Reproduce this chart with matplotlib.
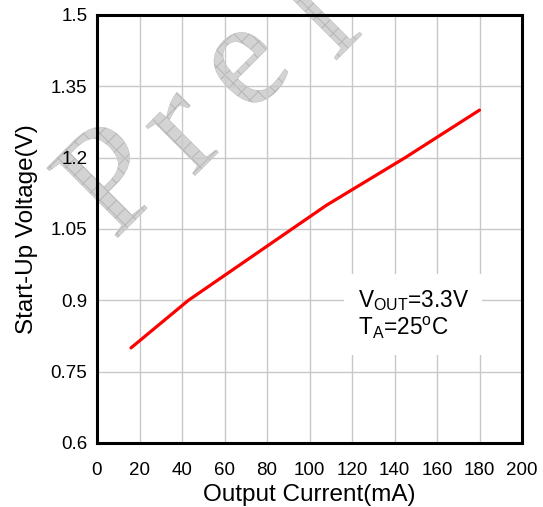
import matplotlib
matplotlib.use("Agg")
import matplotlib.pyplot as plt
from matplotlib.textpath import TextPath
from matplotlib.patches import PathPatch
from matplotlib.font_manager import FontProperties
from matplotlib.transforms import Affine2D, IdentityTransform

plt.rcParams['font.family'] = ['Liberation Sans', 'DejaVu Sans']
plt.rcParams['mathtext.fontset'] = 'custom'
plt.rcParams['mathtext.rm'] = 'Liberation Sans'
plt.rcParams['mathtext.it'] = 'Liberation Sans'
plt.rcParams['hatch.linewidth'] = 0.7

# Data
current_mA = [16, 43, 108, 145, 180]
startup_V = [0.80, 0.90, 1.10, 1.20, 1.30]
x_ticks = [0, 20, 40, 60, 80, 100, 120, 140, 160, 180, 200]
y_ticks = [0.6, 0.75, 0.9, 1.05, 1.2, 1.35, 1.5]
y_tick_labels = ['0.6', '0.75', '0.9', '1.05', '1.2', '1.35', '1.5']

W, H = 543, 507
fig = plt.figure(figsize=(W / 100, H / 100), dpi=100)
ax = fig.add_axes([97 / W, (H - 443) / H, (522 - 97) / W, (443 - 15) / H])

ax.plot(current_mA, startup_V, color='#ff0000', lw=2.3, zorder=4, solid_capstyle='round')
ax.set_xlim(0, 200)
ax.set_ylim(0.6, 1.5)
ax.set_xticks(x_ticks)
ax.set_yticks(y_ticks)
ax.set_yticklabels(y_tick_labels)
ax.grid(True, color='#c8c8c8', lw=1.0)
ax.set_axisbelow(True)
ax.tick_params(length=0, labelsize=13.5)
ax.tick_params(axis='x', pad=14)
ax.tick_params(axis='y', pad=7)
for s in ax.spines.values():
    s.set_linewidth(2.2)
    s.set_color('black')
    s.set_zorder(5)

ax.set_xlabel('Output Current(mA)', fontsize=17.5, labelpad=3)
ax.set_ylabel('Start-Up Voltage(V)', fontsize=17.5, labelpad=9)

ax.text(0.613, 0.30, 'V$_{\\mathrm{OUT}}$=3.3V\nT$_{\\mathrm{A}}$=25$^{\\mathrm{o}}$C',
        transform=ax.transAxes, fontsize=16.3, va='center', ha='left', linespacing=1.1,
        zorder=3, bbox=dict(facecolor='white', edgecolor='none', pad=10))

# Watermark letters (pixel positions from top-left), drawn beneath grid and labels
fp = FontProperties(family='Liberation Serif')
letters = [('P', 108, 177), ('r', 186, 134), ('e', 248, 68), ('l', 312, 10)]
for ch, px, py in letters:
    tp = TextPath((0, 0), ch, size=152, prop=fp)
    ext = tp.get_extents()
    cx, cy = (ext.x0 + ext.x1) / 2, (ext.y0 + ext.y1) / 2
    tr = Affine2D().translate(-cx, -cy).rotate_deg(45).translate(px, H - py)
    path = tr.transform_path(tp)
    patch = PathPatch(path, transform=IdentityTransform(), facecolor='#d3d3d3',
                      edgecolor='#b5b5b5', hatch='xx', lw=0.3,
                      zorder=0.3, clip_on=False)
    ax.add_artist(patch)

fig.savefig('out.png', dpi=100)
